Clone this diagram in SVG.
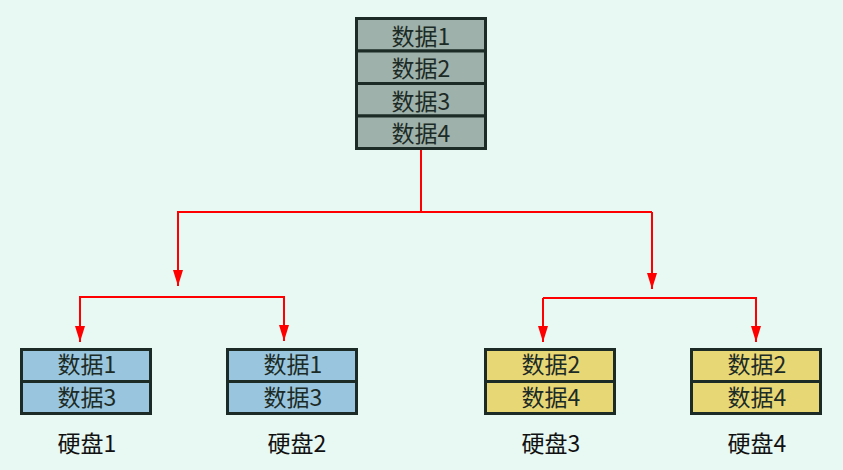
<svg xmlns="http://www.w3.org/2000/svg" width="843" height="470" viewBox="0 0 843 470">
<style>
.bx{stroke:#1c2b26;stroke-width:3}
.g{fill:#9eb1aa}
.b{fill:#99c6de}
.y{fill:#e8d775}
.t{font-family:"Noto Sans CJK SC","Noto Sans",sans-serif;font-size:23px;fill:#1c2b26;text-anchor:middle}
.l{font-family:"Noto Sans CJK SC","Noto Sans",sans-serif;font-size:23px;fill:#111;text-anchor:middle}
.c{fill:none;stroke:#ff0000;stroke-width:2}
</style>
<defs>
<marker id="ah" viewBox="0 0 16 10" refX="16" refY="5" markerWidth="16" markerHeight="10" markerUnits="userSpaceOnUse" orient="auto">
<path d="M0,0 L16,5 L0,10 Z" fill="#ff0000"/>
</marker>
</defs>
<rect width="843" height="470" fill="#e8f8f2"/>
<g id="connectors">
<path class="c" d="M421,149 V211"/>
<path class="c" d="M177,212 H652"/>
<path class="c" d="M178,211 V286" marker-end="url(#ah)"/>
<path class="c" d="M652,212 V289" marker-end="url(#ah)"/>
<path class="c" d="M79,297 H285"/>
<path class="c" d="M80,297 V342" marker-end="url(#ah)"/>
<path class="c" d="M284,296 V341" marker-end="url(#ah)"/>
<path class="c" d="M543,298 H757"/>
<path class="c" d="M543,298 V342" marker-end="url(#ah)"/>
<path class="c" d="M756,298 V342" marker-end="url(#ah)"/>
</g>
<g id="data">
<rect class="bx g" x="356.5" y="18.5" width="129" height="32.5"/>
<rect class="bx g" x="356.5" y="51" width="129" height="32.5"/>
<rect class="bx g" x="356.5" y="83.5" width="129" height="32.5"/>
<rect class="bx g" x="356.5" y="116" width="129" height="32.5"/>
<text class="t" x="421" y="45">数据1</text>
<text class="t" x="421" y="77">数据2</text>
<text class="t" x="421" y="110">数据3</text>
<text class="t" x="421" y="142">数据4</text>
</g>
<g id="disk1">
<rect class="bx b" x="21.5" y="349.5" width="129" height="32"/>
<rect class="bx b" x="21.5" y="381.5" width="129" height="32"/>
<text class="t" x="87" y="373">数据1</text>
<text class="t" x="87" y="406">数据3</text>
<text class="l" x="87" y="452">硬盘1</text>
</g>
<g id="disk2">
<rect class="bx b" x="227.5" y="349.5" width="129" height="32"/>
<rect class="bx b" x="227.5" y="381.5" width="129" height="32"/>
<text class="t" x="293" y="373">数据1</text>
<text class="t" x="293" y="406">数据3</text>
<text class="l" x="297" y="452">硬盘2</text>
</g>
<g id="disk3">
<rect class="bx y" x="485.5" y="349.5" width="129" height="32"/>
<rect class="bx y" x="485.5" y="381.5" width="129" height="32"/>
<text class="t" x="551" y="373">数据2</text>
<text class="t" x="551" y="406">数据4</text>
<text class="l" x="551" y="452">硬盘3</text>
</g>
<g id="disk4">
<rect class="bx y" x="691.5" y="349.5" width="129" height="32"/>
<rect class="bx y" x="691.5" y="381.5" width="129" height="32"/>
<text class="t" x="757" y="373">数据2</text>
<text class="t" x="757" y="406">数据4</text>
<text class="l" x="757" y="452">硬盘4</text>
</g>
</svg>
